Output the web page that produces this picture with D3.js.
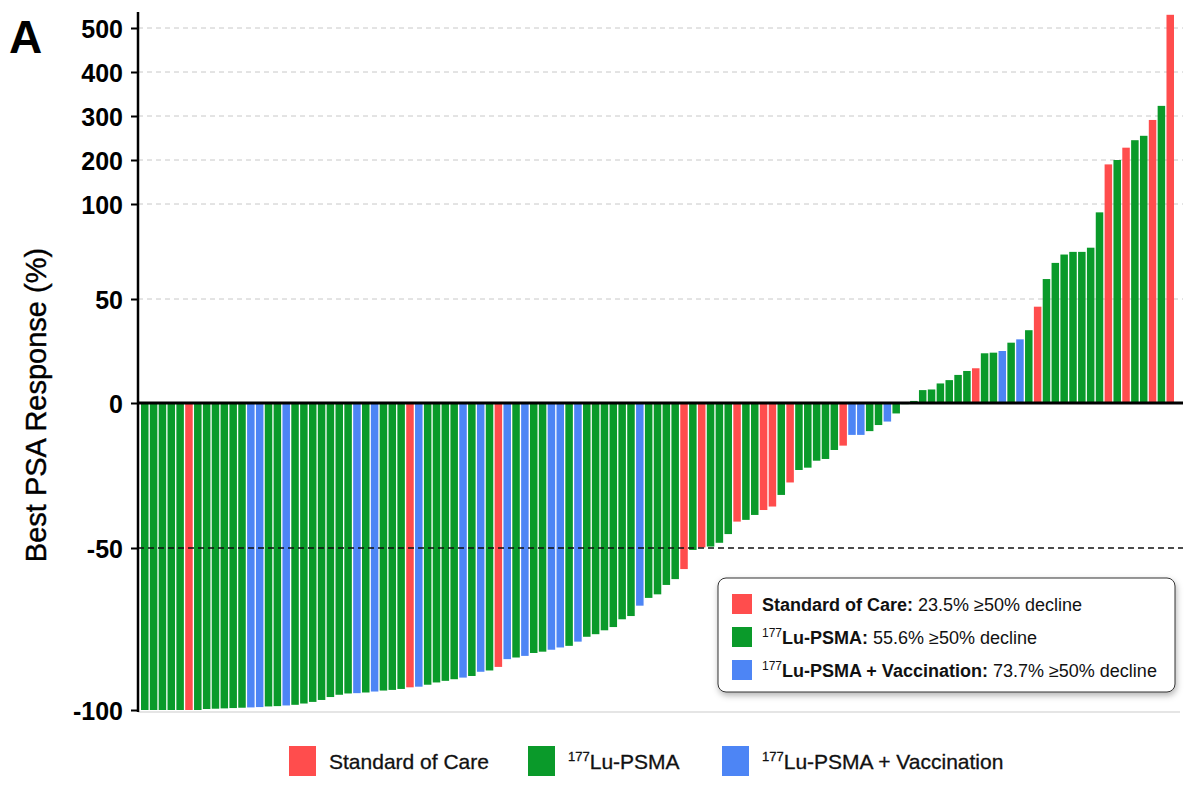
<!DOCTYPE html>
<html>
<head>
<meta charset="utf-8">
<script src="https://cdn.jsdelivr.net/npm/d3@7"></script>
<style>
  html, body { margin: 0; padding: 0; background: #fff; }
  svg { display: block; font-family: "Liberation Sans", Arial, sans-serif; }
</style>
</head>
<body>
<svg id="chart"></svg>
<script>
// group of each patient: S = Standard of Care, L = 177Lu-PSMA, V = 177Lu-PSMA + Vaccination
const groups = [
  "L","L","L","L","L","S","L","L","L","L","L","L","V","V","L","L","V","L","L","L",
  "L","L","L","L","V","L","V","L","L","L","S","V","L","L","L","L","V","L","V","L",
  "S","V","L","V","L","L","V","V","L","V","L","L","L","L","L","L","V","L","L","L",
  "L","S","L","S","L","L","L","S","L","L","S","S","L","S","L","L","L","L","L","S",
  "V","V","L","L","V","L","L","L","L","L","L","L","L","L","S","L","L","V","L","V",
  "L","S","L","L","L","L","L","L","L","S","L","S","L","L","S","L","S"
];

// best PSA response (%)
const responses = [
  -100, -100, -100, -100, -100, -100, -100, -99.7, -99.6, -99.5,
  -99.4, -99.3, -99.2, -99.1, -98.9, -98.8, -98.6, -98.4, -98, -97.5,
  -96.9, -96, -95.3, -94.9, -94.8, -94.6, -94.3, -94, -93.8, -93.5,
  -93, -92.8, -92.2, -91.5, -91, -90.5, -90, -89.5, -88.2, -87.8,
  -86.7, -84.3, -83.8, -83.3, -82.4, -82, -81.4, -80.7, -80.2, -78.9,
  -77.4, -76.6, -75.4, -74.4, -72, -71, -67.8, -65.4, -64.3, -61.4,
  -59.6, -56.5, -50.6, -49.8, -49.5, -48.2, -45.2, -40.9, -40.3, -38.6,
  -36.9, -35.7, -31.7, -27.4, -23.1, -22.3, -19.9, -19.3, -16.2, -14.7,
  -11, -11, -9.7, -7.6, -6.4, -3.6, -0.4, 1, 6.2, 6.5,
  9.4, 11, 13.5, 15.4, 16.7, 23.9, 24.2, 25, 29, 30.6,
  35, 46.3, 60.5, 69, 73.4, 74.8, 74.8, 77, 95.6, 190,
  200, 228, 245, 255, 291, 323, 530
];

const yTicks = [-100, -50, 0, 50, 100, 200, 300, 400, 500];
const gridTicks = [50, 100, 200, 300, 400, 500];

const groupKeys = ["S", "L", "V"];
const groupNames = ["Standard of Care", "Lu-PSMA", "Lu-PSMA + Vaccination"];
const groupSup = ["", "177", "177"];
const declineRates = ["23.5%", "55.6%", "73.7%"];

const colors = { S: "#ff4d4d", L: "#0a9a2a", V: "#4d85f5" };

const width = 1200, height = 800;
const svg = d3.select("#chart").attr("width", width).attr("height", height);

const data = responses.map((v, i) => ({ id: i, value: v, group: groups[i] }));

const x = d3.scaleBand()
  .domain(data.map(d => d.id))
  .range([141, 1174])
  .paddingInner(0.15)
  .paddingOuter(0);

// broken-scale y axis: several linear pieces
const y = d3.scaleLinear()
  .domain([-100, -50, 0, 50, 100, 500])
  .range([710, 548, 403, 299, 204, 28]);

const axisX = 138, lineEnd = 1183;

// grid lines
svg.append("g")
  .selectAll("line")
  .data(gridTicks)
  .join("line")
  .attr("x1", axisX).attr("x2", lineEnd)
  .attr("y1", d => y(d)).attr("y2", d => y(d))
  .attr("stroke", "#c8c8c8")
  .attr("stroke-width", 1)
  .attr("stroke-dasharray", "5,4");

// light baseline at bottom
svg.append("line")
  .attr("x1", axisX).attr("x2", lineEnd - 3)
  .attr("y1", 712).attr("y2", 712)
  .attr("stroke", "#dddddd")
  .attr("stroke-width", 1.5);

// bars
svg.append("g")
  .selectAll("rect")
  .data(data)
  .join("rect")
  .attr("x", d => x(d.id))
  .attr("width", x.bandwidth())
  .attr("y", d => Math.min(y(0), y(d.value)))
  .attr("height", d => Math.abs(y(d.value) - y(0)))
  .attr("fill", d => colors[d.group]);

// -50% threshold
svg.append("line")
  .attr("x1", axisX).attr("x2", lineEnd)
  .attr("y1", y(-50)).attr("y2", y(-50))
  .attr("stroke", "#111")
  .attr("stroke-width", 1.6)
  .attr("stroke-dasharray", "6,4");

// zero line
svg.append("line")
  .attr("x1", axisX).attr("x2", lineEnd)
  .attr("y1", y(0)).attr("y2", y(0))
  .attr("stroke", "#000")
  .attr("stroke-width", 3);

// y axis
const yAxis = svg.append("g")
  .attr("transform", `translate(${axisX},0)`)
  .call(d3.axisLeft(y).tickValues(yTicks).tickSize(7).tickPadding(8).tickFormat(d => String(d)));
yAxis.select(".domain").attr("d", `M0,12V712`).attr("stroke", "#000").attr("stroke-width", 2.5);
yAxis.selectAll(".tick line").attr("stroke", "#000").attr("stroke-width", 2);
yAxis.selectAll(".tick text")
  .style("font-size", "25px")
  .style("font-weight", "bold")
  .attr("fill", "#000")
  .attr("dy", "0.36em");

// axis title
svg.append("text")
  .attr("transform", "translate(46,405) rotate(-90)")
  .attr("text-anchor", "middle")
  .style("font-size", "29px")
  .attr("fill", "#000")
  .attr("stroke", "#000")
  .attr("stroke-width", 0.4)
  .text("Best PSA Response (%)");

// panel letter
svg.append("text")
  .attr("x", 9).attr("y", 53)
  .style("font-size", "46px")
  .style("font-weight", "bold")
  .attr("fill", "#000")
  .text("A");

// inner legend box with shadow
const defs = svg.append("defs");
const f = defs.append("filter").attr("id", "shadow")
  .attr("x", "-10%").attr("y", "-20%").attr("width", "120%").attr("height", "150%");
f.append("feDropShadow").attr("dx", 1).attr("dy", 3).attr("stdDeviation", 3)
  .attr("flood-color", "#000").attr("flood-opacity", 0.3);

svg.append("rect")
  .attr("x", 718).attr("y", 578).attr("width", 457).attr("height", 114)
  .attr("rx", 8)
  .attr("fill", "#fff")
  .attr("stroke", "#333")
  .attr("stroke-width", 1)
  .attr("filter", "url(#shadow)");

const boxRows = svg.append("g").selectAll("g")
  .data(groupKeys)
  .join("g")
  .attr("transform", (d, i) => `translate(732,${604 + i * 33})`);

boxRows.append("rect")
  .attr("x", 0).attr("y", -10).attr("width", 20).attr("height", 20)
  .attr("fill", d => colors[d]);

boxRows.each(function (d, i) {
  const t = d3.select(this).append("text")
    .attr("x", 30).attr("y", 7)
    .style("font-size", "18px")
    .attr("fill", "#111");
  if (groupSup[i]) {
    t.append("tspan").style("font-size", "12px").attr("dy", "-7").text(groupSup[i]);
    t.append("tspan").attr("dy", "7").style("font-weight", "bold").text(groupNames[i] + ":");
  } else {
    t.append("tspan").style("font-weight", "bold").text(groupNames[i] + ":");
  }
  t.append("tspan").text(` ${declineRates[i]} \u226550% decline`);
});

// bottom legend
const legendX = [289, 528, 722];
const legend = svg.append("g").selectAll("g")
  .data(groupKeys)
  .join("g")
  .attr("transform", (d, i) => `translate(${legendX[i]},761)`);

legend.append("rect")
  .attr("x", 0).attr("y", -15).attr("width", 27).attr("height", 30)
  .attr("fill", d => colors[d]);

legend.each(function (d, i) {
  const t = d3.select(this).append("text")
    .attr("x", 40).attr("y", 8)
    .style("font-size", "21px")
    .attr("fill", "#111")
    .attr("stroke", "#111")
    .attr("stroke-width", 0.3);
  if (groupSup[i]) {
    t.append("tspan").style("font-size", "13px").attr("dy", "-8").text(groupSup[i]);
    t.append("tspan").attr("dy", "8").text(groupNames[i]);
  } else {
    t.append("tspan").text(groupNames[i]);
  }
});
</script>
</body>
</html>
